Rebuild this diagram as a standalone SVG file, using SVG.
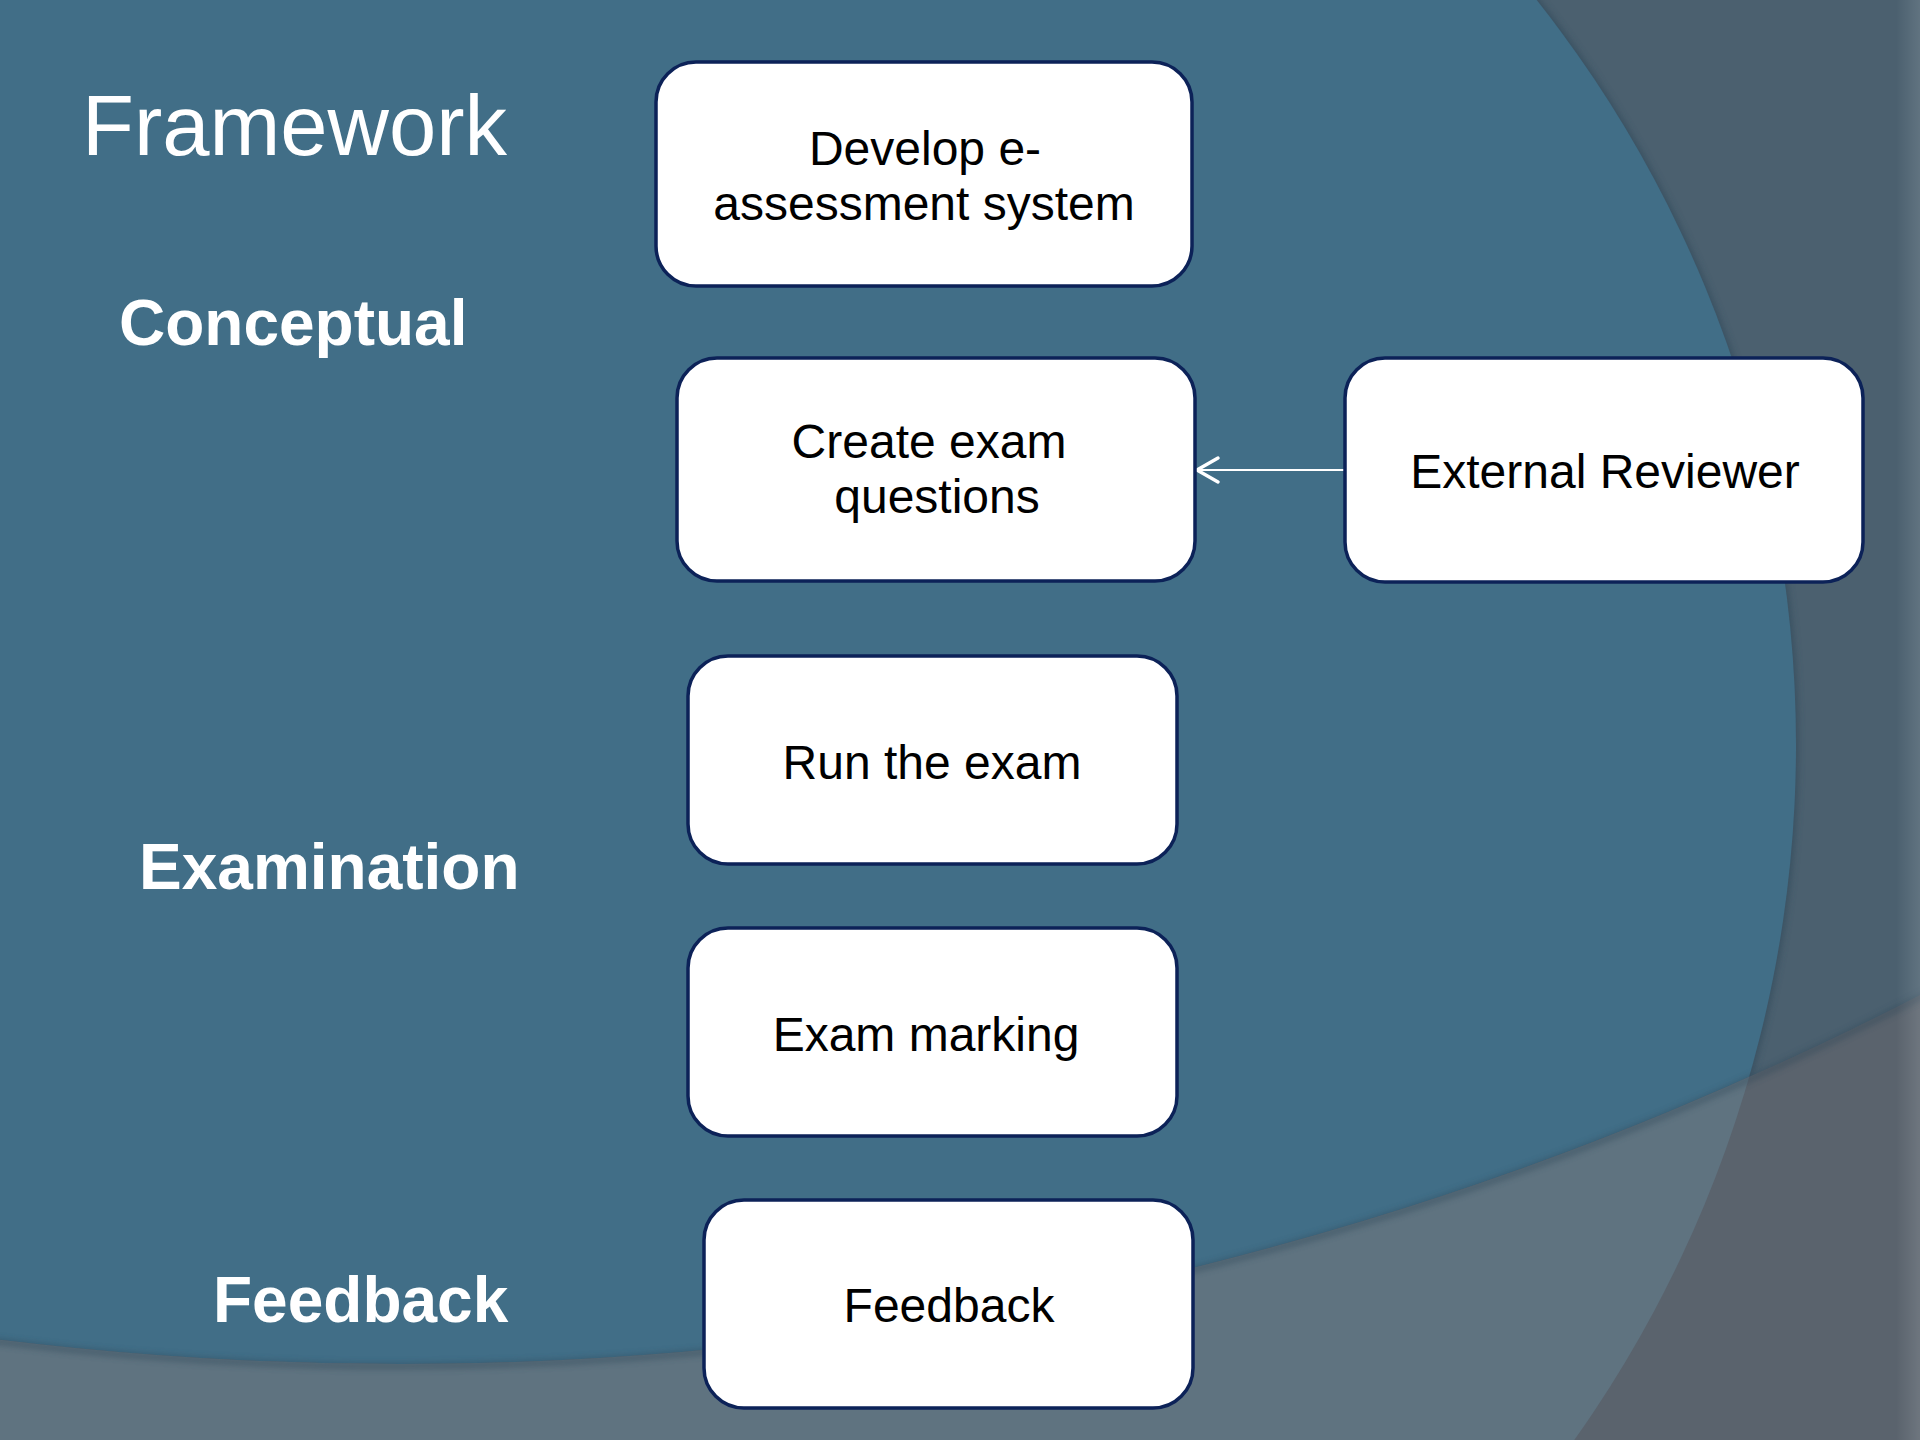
<svg xmlns="http://www.w3.org/2000/svg" width="1920" height="1440" viewBox="0 0 1920 1440">
<style>
.box{fill:#ffffff;stroke:#0c2258;stroke-width:3.5}
.bt{font-family:"Liberation Sans",Arial,sans-serif;font-size:48px;fill:#000000;text-anchor:middle}
.lbl{font-family:"Liberation Sans",Arial,sans-serif;font-size:64px;font-weight:bold;fill:#ffffff}
.title{font-family:"Liberation Sans",Arial,sans-serif;font-size:85px;fill:#ffffff}
.conn{stroke:#ffffff;fill:none}
</style>
<defs>
<clipPath id="bottomClip">
<path clip-rule="evenodd" d="M0 0H1920V1440H0Z M-2915 -1951a3315 3315 0 1 0 6630 0a3315 3315 0 1 0 -6630 0Z"/>
</clipPath>
<filter id="soft" x="-10%" y="-10%" width="120%" height="120%">
<feGaussianBlur stdDeviation="3"/>
</filter>
<linearGradient id="rightEdge" x1="0" y1="0" x2="1" y2="0">
<stop offset="0" stop-color="#ffffff" stop-opacity="0"/>
<stop offset="1" stop-color="#ffffff" stop-opacity="0.12"/>
</linearGradient>
</defs>
<g id="background">
<rect x="0" y="0" width="1920" height="1440" fill="#4b606f"/>
<circle cx="596" cy="745" r="1203" fill="#2c4556" opacity="0.5" filter="url(#soft)"/>
<circle cx="596" cy="745" r="1200" fill="#416e87"/>
<path fill-rule="evenodd" fill="#5a636d" d="M0 0H1920V1440H0Z M-2915 -1951a3315 3315 0 1 0 6630 0a3315 3315 0 1 0 -6630 0Z"/>
<g clip-path="url(#bottomClip)">
<circle cx="596" cy="745" r="1200" fill="#5f7380"/>
</g>
<circle cx="400" cy="-1951" r="3317" fill="none" stroke="#2c4556" stroke-width="6" opacity="0.45" filter="url(#soft)"/>
<rect x="1896" y="0" width="24" height="1440" fill="url(#rightEdge)"/>
</g>
<g id="labels">
<text class="title" x="82" y="155">Framework</text>
<text class="lbl" x="119" y="345">Conceptual</text>
<text class="lbl" x="139" y="889">Examination</text>
<text class="lbl" x="213" y="1322">Feedback</text>
</g>
<g id="connectors">
<line class="conn" x1="1344" y1="470" x2="1198" y2="470" stroke-width="2"/>
<polyline class="conn" points="1218,458 1197,470 1218,482" stroke-width="3.5" stroke-linecap="round" stroke-linejoin="round"/>
</g>
<g id="node-develop">
<rect class="box" x="656" y="62" width="536" height="224" rx="40"/>
<text class="bt" x="925" y="165">Develop e-</text>
<text class="bt" x="924" y="220">assessment system</text>
</g>
<g id="node-create">
<rect class="box" x="677" y="358" width="518" height="223" rx="40"/>
<text class="bt" x="929" y="458">Create exam</text>
<text class="bt" x="937" y="513">questions</text>
</g>
<g id="node-reviewer">
<rect class="box" x="1345" y="358" width="518" height="224" rx="40"/>
<text class="bt" x="1605" y="488">External Reviewer</text>
</g>
<g id="node-run">
<rect class="box" x="688" y="656" width="489" height="208" rx="40"/>
<text class="bt" x="932" y="779">Run the exam</text>
</g>
<g id="node-marking">
<rect class="box" x="688" y="928" width="489" height="208" rx="40"/>
<text class="bt" x="926" y="1051">Exam marking</text>
</g>
<g id="node-feedback">
<rect class="box" x="704" y="1200" width="489" height="208" rx="40"/>
<text class="bt" x="949" y="1322">Feedback</text>
</g>
</svg>
